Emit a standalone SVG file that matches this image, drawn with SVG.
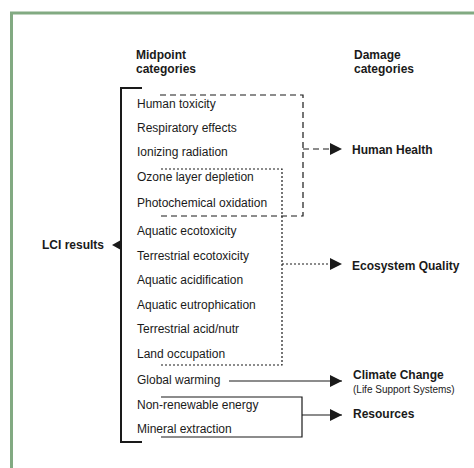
<svg xmlns="http://www.w3.org/2000/svg" width="474" height="468" viewBox="0 0 474 468">
<style>
text{font-family:"Liberation Sans",Arial,sans-serif;fill:#1a1a1a}
.b{font-weight:bold;font-size:12px}
.t{font-size:12px}
.s{font-size:10px}
.ln{stroke:#1a1a1a;fill:none}
.dash{stroke-dasharray:6 4;stroke-width:1.2}
.dot{stroke-dasharray:2 2;stroke-width:1.2}
.sol{stroke-width:1.2}
</style>
<defs>
<marker id="ah" viewBox="0 0 12 12" refX="12" refY="6" markerWidth="12" markerHeight="12" markerUnits="userSpaceOnUse" orient="auto">
<path d="M0,0 L12,6 L0,12 Z" fill="#1a1a1a"/>
</marker>
</defs>
<rect x="0" y="0" width="474" height="468" fill="#ffffff"/>
<path d="M11.5,468 V13 H474" fill="none" stroke="#82aa82" stroke-width="3"/>
<g id="headers">
<text class="b" x="136" y="59">Midpoint</text>
<text class="b" x="136" y="73">categories</text>
<text class="b" x="354" y="59">Damage</text>
<text class="b" x="354" y="73">categories</text>
</g>
<g id="lci">
<text class="b" x="42" y="249">LCI results</text>
</g>
<g id="midpoints">
<text class="t" x="137" y="108">Human toxicity</text>
<text class="t" x="137" y="132">Respiratory effects</text>
<text class="t" x="137" y="156">Ionizing radiation</text>
<text class="t" x="137" y="181">Ozone layer depletion</text>
<text class="t" x="137" y="207">Photochemical oxidation</text>
<text class="t" x="137" y="235">Aquatic ecotoxicity</text>
<text class="t" x="137" y="260">Terrestrial ecotoxicity</text>
<text class="t" x="137" y="284">Aquatic acidification</text>
<text class="t" x="137" y="309">Aquatic eutrophication</text>
<text class="t" x="137" y="333">Terrestrial acid/nutr</text>
<text class="t" x="137" y="358">Land occupation</text>
<text class="t" x="137" y="384">Global warming</text>
<text class="t" x="137" y="409">Non-renewable energy</text>
<text class="t" x="137" y="433">Mineral extraction</text>
</g>
<g id="human-health"><text class="b" x="352" y="154">Human Health</text></g>
<g id="ecosystem-quality"><text class="b" x="352" y="270">Ecosystem Quality</text></g>
<g id="climate-change">
<text class="b" x="353" y="379">Climate Change</text>
<text class="s" x="353" y="393">(Life Support Systems)</text>
</g>
<g id="resources"><text class="b" x="353" y="418">Resources</text></g>
<g id="connectors">
<path class="ln" d="M142,88 H121 V442 H142" stroke-width="2"/>
<path d="M112,245 L121,240 L121,250 Z" fill="#1a1a1a"/>
<path class="ln dash" d="M160,95 H303 V216 H161"/>
<path class="ln dot" d="M161,169 H282 V365 H161"/>
<path class="ln sol" d="M161,397 H302 V437 H161"/>
<path class="ln dash" d="M303,149 H342" stroke-dasharray="4 5" marker-end="url(#ah)"/>
<path class="ln dot" d="M282,264 H342" marker-end="url(#ah)"/>
<path class="ln sol" d="M229,381 H342" marker-end="url(#ah)"/>
<path class="ln sol" d="M302,415 H342" marker-end="url(#ah)"/>
</g>
</svg>
